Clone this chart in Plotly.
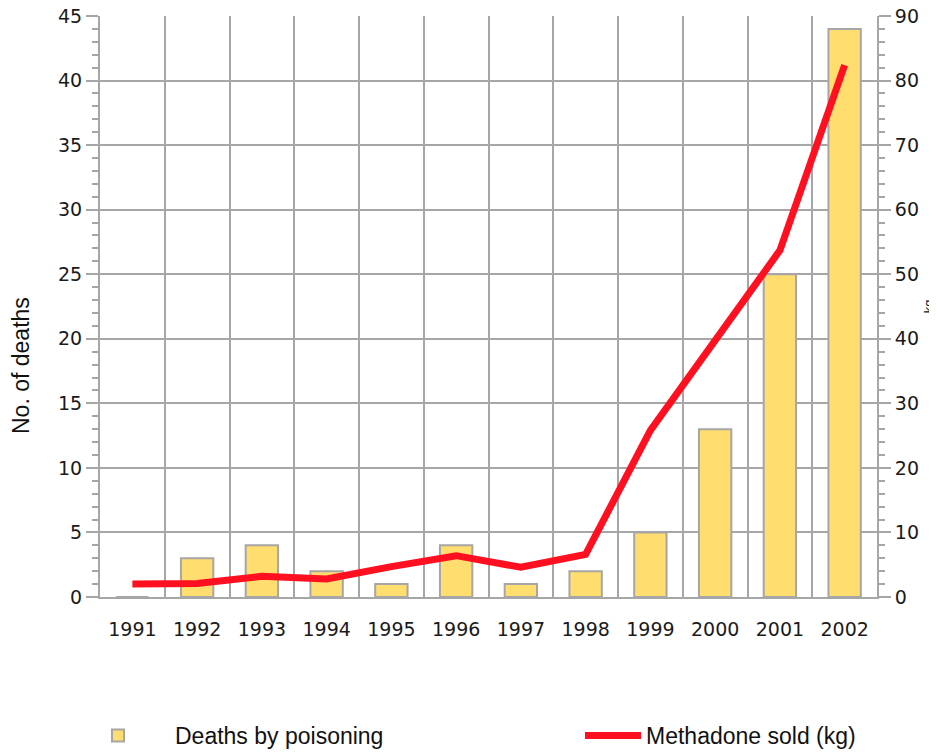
import plotly.graph_objects as go

years = ["1991", "1992", "1993", "1994", "1995", "1996", "1997", "1998", "1999", "2000", "2001", "2002"]
deaths = [0, 3, 4, 2, 1, 4, 1, 2, 5, 13, 25, 44]
methadone_kg = [2.0, 2.1, 3.2, 2.8, 4.7, 6.4, 4.6, 6.6, 25.8, 39.8, 53.7, 82.4]
y_title = "No. of deaths"
y2_title = "kg"

GRID = "#A6A6A6"
TICKFONT = dict(family="DejaVu Sans, Verdana, sans-serif", size=19, color="#1a1a1a")
TXTFONT = "Liberation Sans, Arial, sans-serif"

fig = go.Figure()
fig.add_trace(go.Bar(
    x=years, y=deaths, name="Deaths by poisoning",
    marker=dict(color="#FFDD6E", line=dict(color=GRID, width=2)),
    width=0.5, yaxis="y", legend="legend",
))
fig.add_trace(go.Scatter(
    x=years, y=methadone_kg, name="Methadone sold (kg)", mode="lines",
    line=dict(color="#FF1020", width=7), yaxis="y2", legend="legend2",
))

W, H = 937, 753
L, T = 92, 8
PW, PH = 777, 581
R = W - L - PW
B = H - T - PH


def px_x(page_x):
    return (page_x - 8 - L) / PW


def px_y(page_y):
    return (T + PH - (page_y - 8)) / PH


fig.add_annotation(text=y_title, xref="paper", yref="paper", x=px_x(21), y=px_y(366),
                   xanchor="center", yanchor="middle", textangle=-90, showarrow=False,
                   borderpad=0, font=dict(family=TXTFONT, size=23, color="#111"))

fig.update_layout(
    width=W, height=H,
    margin=dict(l=L, r=R, t=T, b=B, autoexpand=False),
    plot_bgcolor="white", paper_bgcolor="white",
    showlegend=True,
    legend=dict(orientation="h", x=px_x(61), xanchor="left", y=px_y(714), yanchor="top",
                font=dict(family=TXTFONT, size=23, color="#111"),
                itemwidth=104, bgcolor="rgba(0,0,0,0)"),
    legend2=dict(orientation="h", x=px_x(580), xanchor="left", y=px_y(714), yanchor="top",
                 font=dict(family=TXTFONT, size=23, color="#111"),
                 itemwidth=56, bgcolor="rgba(0,0,0,0)"),
    xaxis=dict(type="category", tickson="boundaries", showgrid=True, gridcolor=GRID, gridwidth=2,
               showline=True, linecolor=GRID, linewidth=2, ticks="", tickfont=TICKFONT,
               ticklabelstandoff=14, zeroline=False, automargin=False, ticklabeloverflow="allow"),
    yaxis=dict(range=[0, 45], dtick=5, showgrid=True, gridcolor=GRID, gridwidth=2,
               showline=True, linecolor=GRID, linewidth=2, ticks="outside", ticklen=12,
               tickcolor=GRID, tickwidth=2, tickfont=TICKFONT, zeroline=False, automargin=False,
               ticklabeloverflow="allow",
               minor=dict(dtick=1, ticks="outside", ticklen=6, tickcolor=GRID, tickwidth=2, showgrid=False)),
    yaxis2=dict(range=[0, 90], dtick=10, overlaying="y", side="right", showgrid=False,
                showline=True, linecolor=GRID, linewidth=2, ticks="outside", ticklen=12,
                tickcolor=GRID, tickwidth=2, tickfont=TICKFONT, zeroline=False, automargin=False,
                ticklabeloverflow="allow",
                minor=dict(dtick=2, ticks="outside", ticklen=6, tickcolor=GRID, tickwidth=2, showgrid=False),
                title=dict(text=y2_title, font=dict(family=TXTFONT, size=13, color="#111"), standoff=6)),
)

fig.write_html("out.html")
